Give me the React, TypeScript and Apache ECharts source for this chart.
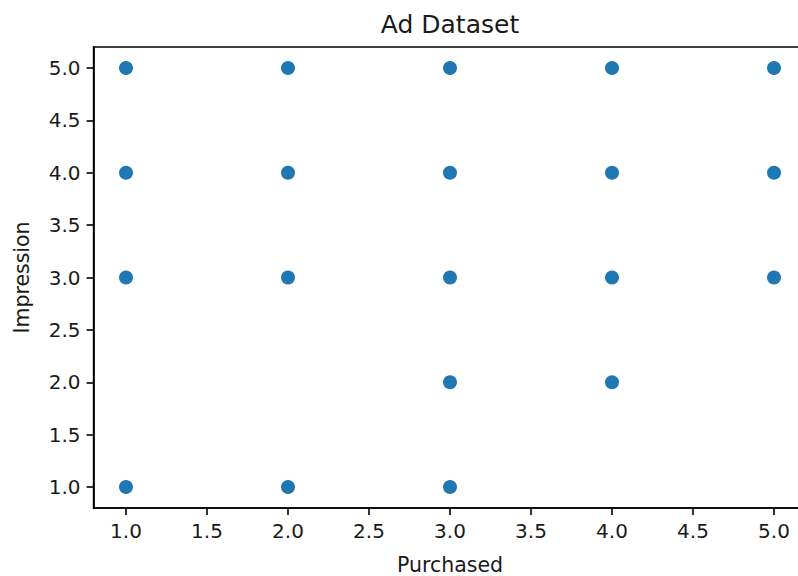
import React, { useEffect, useRef } from "react";
import * as echarts from "echarts";

// Purchased (x) and Impression (y) values of the ad dataset
const purchased = [1, 1, 1, 1, 2, 2, 2, 2, 3, 3, 3, 3, 3, 4, 4, 4, 4, 5, 5, 5];
const impression = [5, 4, 3, 1, 5, 4, 3, 1, 5, 4, 3, 2, 1, 5, 4, 3, 2, 5, 4, 3];

const tickValues = [1.0, 1.5, 2.0, 2.5, 3.0, 3.5, 4.0, 4.5, 5.0];

const chartTitle = "Ad Dataset";
const xName = "Purchased";
const yName = "Impression";

const FONT = "DejaVu Sans";
const INK = "#1a1a1a";

// The plot frame runs past the right edge of the view, so the chart
// canvas is wider than the clipping wrapper.
const VIEW_W = 798;
const VIEW_H = 576;
const CANVAS_W = 820;

export default function App() {
  const ref = useRef<HTMLDivElement>(null);

  useEffect(() => {
    if (!ref.current) return;
    const chart = echarts.init(ref.current, undefined, { renderer: "svg" });

    const gridLeft = 93.6;
    const gridTop = 47;
    const gridWidth = 712.8;
    const gridHeight = 461;

    const axisCommon = {
      type: "value" as const,
      min: 0.8,
      max: 5.2,
      axisLine: { show: true, lineStyle: { color: "#000", width: 1.6 } },
      axisTick: {
        show: true,
        inside: false,
        length: 7,
        lineStyle: { color: "#000", width: 1.6 },
        customValues: tickValues,
      },
      axisLabel: {
        show: true,
        margin: 13,
        color: INK,
        fontFamily: FONT,
        fontSize: 20,
        customValues: tickValues,
        formatter: (v: number) => v.toFixed(1),
      },
      splitLine: { show: false },
    };

    chart.setOption({
      animation: false,
      backgroundColor: "#fff",
      grid: {
        left: gridLeft,
        top: gridTop,
        width: gridWidth,
        height: gridHeight,
        show: true,
        borderColor: "#000",
        borderWidth: 1.6,
        backgroundColor: "transparent",
      },
      xAxis: { ...axisCommon, position: "bottom" },
      yAxis: { ...axisCommon, position: "left" },
      series: [
        {
          type: "scatter",
          symbol: "circle",
          symbolSize: 14,
          itemStyle: { color: "#1f77b4", opacity: 1 },
          data: purchased.map((x, i) => [x, impression[i]]),
        },
      ],
      graphic: [
        {
          type: "text",
          x: gridLeft + gridWidth / 2,
          y: 24,
          style: {
            text: chartTitle,
            fontFamily: FONT,
            fontSize: 25,
            fill: INK,
            align: "center",
            verticalAlign: "middle",
          },
        },
        {
          type: "text",
          x: gridLeft + gridWidth / 2,
          y: 565,
          style: {
            text: xName,
            fontFamily: FONT,
            fontSize: 20.5,
            fill: INK,
            align: "center",
            verticalAlign: "middle",
          },
        },
        {
          type: "text",
          x: 22,
          y: gridTop + gridHeight / 2,
          rotation: Math.PI / 2,
          style: {
            text: yName,
            fontFamily: FONT,
            fontSize: 20.5,
            fill: INK,
            align: "center",
            verticalAlign: "middle",
          },
        },
      ],
    });

    return () => chart.dispose();
  }, []);

  return (
    <div
      style={{
        position: "absolute",
        left: 0,
        top: 0,
        width: VIEW_W,
        height: VIEW_H,
        overflow: "hidden",
        background: "#fff",
      }}
    >
      <div ref={ref} style={{ width: CANVAS_W, height: VIEW_H }} />
    </div>
  );
}
